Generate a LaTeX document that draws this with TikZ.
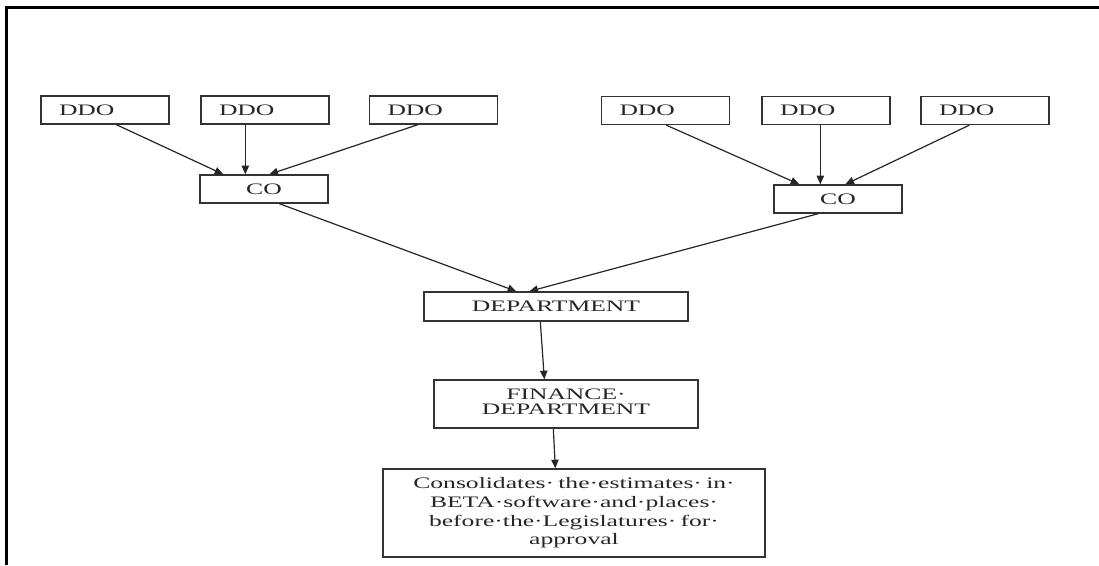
\documentclass[tikz,border=0pt]{standalone}
\usepackage{fontspec}
\setmainfont{Liberation Serif}
\usepackage{graphicx}
\usetikzlibrary{arrows.meta,calc}

% labels are set wide, as in the printed chart
\newcommand\wide[1]{\scalebox{1.6}[1]{#1}}
\newcommand\widestack[2]{\wide{\renewcommand\arraystretch{#1}\begin{tabular}{@{}c@{}}#2\end{tabular}}}

\tikzset{
  box/.style={draw=black!80, line width=1pt, rectangle, inner sep=0pt,
    font=\fontsize{12}{14.4}\selectfont, text=black!85},
  ddo/.style={box, minimum height=21pt, inner xsep=13.5pt, text width=69pt, align=left},
  cobox/.style={box, minimum width=96pt, minimum height=21pt},
  deptbox/.style={box, minimum width=198pt, minimum height=21.75pt},
  finbox/.style={box, minimum width=198pt, minimum height=36pt},
  endbox/.style={box, minimum width=286.5pt, minimum height=66pt},
  arr/.style={draw=black!85, line width=0.9pt, -{Triangle[length=6.5pt,width=5.5pt]}},
  frame/.style={line width=2.2pt, draw=black}
}

\begin{document}
\begin{tikzpicture}[x=0.75pt, y=-0.75pt]
\useasboundingbox[fill=white] (0,0) rectangle (1099,565);

% page frame
\draw[frame] (6.5,565) -- (6.5,7.5) -- (1099,7.5);

% drawing officers
\node[ddo] (d1) at (105,110)   {\wide{DDO}};
\node[ddo] (d2) at (265,110)   {\wide{DDO}};
\node[ddo] (d3) at (433.5,110) {\wide{DDO}};
\node[ddo] (d4) at (665.5,110.5) {\wide{DDO}};
\node[ddo] (d5) at (826,110.5)   {\wide{DDO}};
\node[ddo] (d6) at (985,110.5)   {\wide{DDO}};

% controlling officers
\node[cobox] (c1) at (264,189) {\wide{CO}};
\node[cobox] (c2) at (838,199) {\wide{CO}};

% department levels
\node[deptbox] (dep) at (556,306.5) {\wide{DEPARTMENT}};
\node[finbox] (fin) at (566,404) {\widestack{0.81}{FINANCE·\\DEPARTMENT}};
\node[endbox] (cons) at (574,513)
  {\widestack{0.98}{Consolidates·\,the·estimates·\,in·\\BETA·software·and·places·\\before·the·Legislatures·\,for·\\approval}};

% DDO -> CO
\draw[arr] ($(d1.south west)+(76,0)$) -- ($(c1.north west)+(24,0)$);
\draw[arr] ($(d2.south west)+(45,0)$) -- ($(c1.north west)+(46,0)$);
\draw[arr] ($(d3.south west)+(49,0)$) -- ($(c1.north west)+(70,0)$);
\draw[arr] ($(d4.south west)+(65.5,0)$) -- ($(c2.north west)+(26,0)$);
\draw[arr] ($(d5.south west)+(59,0)$) -- ($(c2.north west)+(47,0)$);
\draw[arr] ($(d6.south west)+(49,0)$) -- ($(c2.north west)+(72,0)$);

% CO -> department -> finance -> legislature
\draw[arr] ($(c1.south west)+(80,0)$) -- ($(dep.north west)+(93,0)$);
\draw[arr] ($(c2.south west)+(45,0)$) -- ($(dep.north west)+(106,0)$);
\draw[arr] ($(dep.south west)+(117,0)$) -- ($(fin.north west)+(111,0)$);
\draw[arr] ($(fin.south west)+(120,0)$) -- ($(cons.north west)+(173,0)$);
\end{tikzpicture}
\end{document}
